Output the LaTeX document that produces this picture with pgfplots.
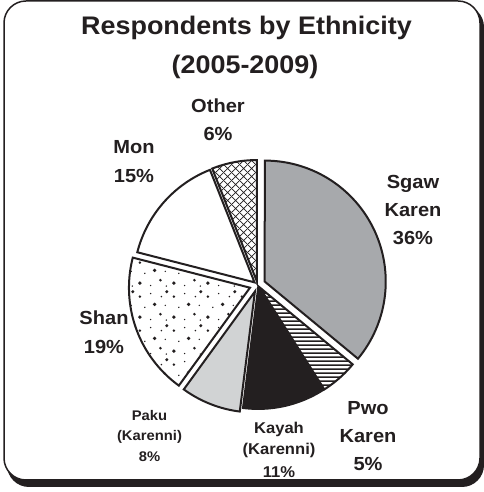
\documentclass[border=0pt]{standalone}
\usepackage{fontspec}
\setmainfont{Liberation Sans}[FakeStretch=1.06]
\usepackage{pgfplots}
\pgfplotsset{compat=1.18}
\usepackage{pgfplotstable}
\usetikzlibrary{patterns}

\definecolor{ink}{HTML}{231F20}
\definecolor{sgawgray}{HTML}{A7A9AC}
\definecolor{pakugray}{HTML}{D1D3D4}

% fill patterns
\pgfdeclarepatternformonly{diamondhatch}{\pgfpoint{0bp}{0bp}}{\pgfpoint{8bp}{8bp}}{\pgfpoint{8bp}{8bp}}{%
  \pgfsetlinewidth{0.8bp}%
  \pgfpathmoveto{\pgfpoint{-1bp}{-1bp}}\pgfpathlineto{\pgfpoint{9bp}{9bp}}%
  \pgfpathmoveto{\pgfpoint{-1bp}{9bp}}\pgfpathlineto{\pgfpoint{9bp}{-1bp}}%
  \pgfusepath{stroke}}
\pgfdeclarepatternformonly{hstripes}{\pgfpoint{0bp}{0bp}}{\pgfpoint{4.4bp}{4.4bp}}{\pgfpoint{4.4bp}{4.4bp}}{%
  \pgfsetlinewidth{1.6bp}%
  \pgfpathmoveto{\pgfpoint{-1bp}{2.2bp}}\pgfpathlineto{\pgfpoint{5.4bp}{2.2bp}}%
  \pgfusepath{stroke}}
\pgfdeclarepatternformonly{specks}{\pgfpoint{0bp}{0bp}}{\pgfpoint{34bp}{34bp}}{\pgfpoint{34bp}{34bp}}{%
  \pgfpathcircle{\pgfpoint{4bp}{5bp}}{1.9bp}%
  \pgfpathcircle{\pgfpoint{15bp}{2.5bp}}{0.8bp}%
  \pgfpathcircle{\pgfpoint{25bp}{8bp}}{1.5bp}%
  \pgfpathcircle{\pgfpoint{31bp}{2bp}}{0.8bp}%
  \pgfpathcircle{\pgfpoint{9bp}{15bp}}{0.8bp}%
  \pgfpathcircle{\pgfpoint{19bp}{18bp}}{1.9bp}%
  \pgfpathcircle{\pgfpoint{30bp}{17bp}}{0.8bp}%
  \pgfpathcircle{\pgfpoint{4bp}{26bp}}{1.4bp}%
  \pgfpathcircle{\pgfpoint{15bp}{29bp}}{0.8bp}%
  \pgfpathcircle{\pgfpoint{26bp}{26bp}}{0.9bp}%
  \pgfpathcircle{\pgfpoint{31.5bp}{31bp}}{1.7bp}%
  \pgfusepath{fill}}

% shares of respondents (percent), clockwise from 12 o'clock; explode = offset of the wedge
\pgfplotstableread{
name  share explode
Sgaw  36    8
Pwo   5     3
Kayah 11    3
Paku  8     7
Shan  19    8
Mon   15    4
Other 6     4
}\ethnic

\def\Cx{257.5}
\def\Cy{207}
\def\R{121}
\gdef\cum{0}

% one wedge of the pie, from row #1 of the table
\newcommand\slice[2]{%
  \pgfplotstablegetelem{#1}{share}\of\ethnic \let\sh\pgfplotsretval
  \pgfplotstablegetelem{#1}{explode}\of\ethnic \let\ex\pgfplotsretval
  \pgfmathsetmacro\aS{90-3.6*\cum}%
  \pgfmathsetmacro\aE{90-3.6*(\cum+\sh)}%
  \pgfmathsetmacro\aM{(\aS+\aE)/2}%
  \pgfmathsetmacro\px{\Cx+\ex*cos(\aM)}%
  \pgfmathsetmacro\py{\Cy+\ex*sin(\aM)}%
  \edef\doslice{\noexpand\addplot[pieslice,#2,domain=\aE:\aS,samples=90]
    ({\px+\R*cos(x)},{\py+\R*sin(x)}) -- (axis cs:\px,\py) -- cycle;}%
  \doslice
  \pgfmathsetmacro\cumnext{\cum+\sh}\global\let\cum\cumnext
}

% one line of label text, placed on its baseline (y measured from the top)
\newcommand\lbl[4]{\node[anchor=base, inner sep=0pt, text=ink,
  font=\fontsize{#3}{#3}\selectfont\bfseries] at (axis cs:#1,{492-#2}) {#4};}

\begin{document}
\begin{tikzpicture}
\begin{axis}[
  hide axis, scale only axis, clip=false,
  width=484bp, height=492bp,
  xmin=0, xmax=484, ymin=0, ymax=492,
  pieslice/.style={draw=ink, line width=2bp, line join=miter},
]
% frame with drop shadow
\fill[ink, rounded corners=22bp] (axis cs:7,5) rectangle (axis cs:484,487);
\filldraw[fill=white, draw=ink, line width=1.5bp, rounded corners=22bp]
  (axis cs:4,12) rectangle (axis cs:480,491);

\slice{0}{fill=sgawgray}
\slice{1}{pattern=hstripes, pattern color=ink}
\slice{2}{fill=ink}
\slice{3}{fill=pakugray}
\slice{4}{pattern=specks, pattern color=ink}
\slice{5}{fill=white}
\slice{6}{pattern=diamondhatch, pattern color=ink}

% title
\lbl{246.5}{35}{25.5}{Respondents by Ethnicity}
\lbl{245}{74}{25.5}{(2005-2009)}
% slice labels
\lbl{218}{112.7}{19}{Other}
\lbl{218}{140.7}{19}{6\%}
\lbl{134}{154}{19}{Mon}
\lbl{134}{182.7}{19}{15\%}
\lbl{413}{188.3}{19}{Sgaw}
\lbl{413}{216.7}{19}{Karen}
\lbl{413}{244.3}{19}{36\%}
\lbl{104}{325}{19}{Shan}
\lbl{104}{353.3}{19}{19\%}
\lbl{149.5}{420.7}{14}{Paku}
\lbl{149.5}{440.7}{14}{(Karenni)}
\lbl{149.5}{461.7}{14}{8\%}
\lbl{279}{433.3}{15.7}{Kayah}
\lbl{279}{455}{15.7}{(Karenni)}
\lbl{279}{477.3}{15.7}{11\%}
\lbl{368}{414.3}{19}{Pwo}
\lbl{368}{442.3}{19}{Karen}
\lbl{368}{470.7}{19}{5\%}
\end{axis}
\pgfresetboundingbox
\path[use as bounding box] (current axis.south west) rectangle (current axis.north east);
\end{tikzpicture}
\end{document}
